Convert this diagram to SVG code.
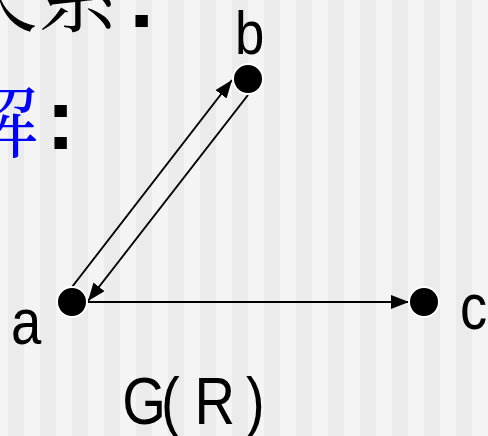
<svg xmlns="http://www.w3.org/2000/svg" width="488" height="436" viewBox="0 0 488 436">
<style>
.cjk{font-family:"Noto Serif CJK SC","Noto Sans CJK SC",serif;font-size:80px;}
.colon{font-family:"Liberation Sans",Arial,sans-serif;font-weight:bold;font-size:88px;fill:#000;}
.lbl{font-family:"Liberation Sans",Arial,sans-serif;font-size:64px;fill:#000;}
.edge{stroke:#000;stroke-width:2;fill:none;}
.node{fill:#000;stroke:#fff;stroke-width:2;}
</style>
<defs>
<pattern id="stripes" x="8" y="0" width="32" height="436" patternUnits="userSpaceOnUse">
<rect x="0" y="0" width="16" height="436" fill="#ebebeb"/>
</pattern>
<marker id="arr" markerUnits="userSpaceOnUse" markerWidth="19" markerHeight="15" refX="18" refY="7" orient="auto">
<path d="M0,0 L18,7 L0,14 z" fill="#000"/>
</marker>
</defs>
<rect x="0" y="0" width="488" height="436" fill="#f4f4f4"/>
<rect x="0" y="0" width="488" height="436" fill="url(#stripes)"/>
<g id="heading">
<text class="cjk" x="-42" y="25" fill="#000">关系</text>
<text class="colon" x="127" y="27">:</text>
<text class="cjk" x="-42" y="151" fill="#0000ff">解</text>
<text class="colon" x="46" y="149">:</text>
</g>
<g id="connectors">
<line class="edge" x1="72" y1="287" x2="232" y2="80" marker-end="url(#arr)"/>
<line class="edge" x1="248" y1="95" x2="88" y2="301" marker-end="url(#arr)"/>
<line class="edge" x1="87" y1="302" x2="409" y2="302" marker-end="url(#arr)"/>
</g>
<g id="node-a">
<circle class="node" cx="72" cy="302" r="15"/>
<text class="lbl" transform="translate(11,344) scale(0.85,1)">a</text>
</g>
<g id="node-b">
<circle class="node" cx="248" cy="79" r="15"/>
<text class="lbl" transform="translate(235,54) scale(0.85,1)" style="font-size:62px">b</text>
</g>
<g id="node-c">
<circle class="node" cx="424" cy="302" r="15"/>
<text class="lbl" transform="translate(460,329) scale(0.85,1)">c</text>
</g>
<g id="caption">
<text class="lbl" style="font-size:66px" transform="translate(0,424) scale(0.85,1)"><tspan x="143.9">G</tspan><tspan x="189.5">(</tspan> <tspan x="228.9">R</tspan> <tspan x="289.4">)</tspan></text>
</g>
</svg>
